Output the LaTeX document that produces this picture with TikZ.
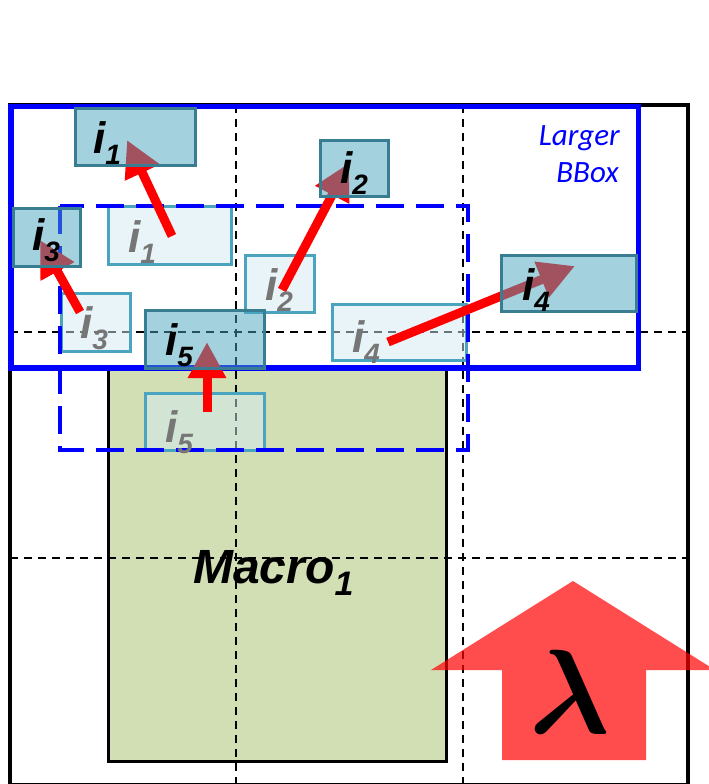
\documentclass[tikz,border=0pt]{standalone}
\usepackage{fontspec}
\usetikzlibrary{arrows.meta}
\DeclareFontShape{OML}{cmm}{b}{it}{<->cmmib10}{}
\newfontfamily\arialfont{Liberation Sans}
\newfontfamily\calibrifont{Carlito}
\definecolor{cellfill}{RGB}{71,163,189}
\definecolor{cellline}{RGB}{56,125,145}
\definecolor{ghostfill}{RGB}{211,233,243}
\definecolor{ghostline}{RGB}{74,164,192}
\definecolor{macrofill}{RGB}{210,223,181}
\definecolor{ghosttext}{RGB}{118,118,118}
\tikzset{
  gridline/.style={dash pattern=on 8pt off 6pt, line width=2.5pt},
  bboxline/.style={draw=blue, line width=5.5pt},
  bboxdash/.style={draw=blue, line width=3.5pt, dash pattern=on 28pt off 12pt},
  cell/.style={fill=cellfill, fill opacity=0.5, draw=cellline, line width=3pt},
  ghost/.style={fill=ghostfill, fill opacity=0.5, draw=ghostline, line width=3pt},
  move/.style={red, line width=9pt, -{Triangle[length=36pt,width=36pt]}},
  lab/.style={inner sep=0pt, font=\arialfont\bfseries\itshape}
}
\newcommand{\cellname}[1]{{\fontsize{44}{44}\selectfont i}\raisebox{-11pt}{\fontsize{28}{28}\selectfont #1}}

\begin{document}
\begin{tikzpicture}[x=1pt, y=-1pt]
	\clip (0,0) rectangle (709,784);
	% macro block and grid
	\filldraw[fill=macrofill, line width=3.5pt] (108.5,368) rectangle (446.5,761.5);
	\draw[gridline] (236,105) -- (236,784);
	\draw[gridline] (463,105) -- (463,784);
	\draw[gridline] (10,332) -- (688,332);
	\draw[gridline] (10,558) -- (688,558);
	\draw[line width=3.5pt] (10,105) rectangle (688,785);
	\draw[bboxline] (11,106.5) rectangle (638.5,368);
	% old cell positions
	\filldraw[ghost] (108,206) rectangle (231,264);
	\filldraw[ghost] (245,255) rectangle (314,312);
	\filldraw[ghost] (61,293) rectangle (130,351);
	\filldraw[ghost] (332,304) rectangle (466,360);
	\filldraw[ghost] (145,393) rectangle (264,450);
	\draw[bboxdash] (60,206) rectangle (468,450);
	% moves
	\coordinate (s1) at (172,236); \coordinate (t1) at (127,140);
	\coordinate (s2) at (282,290); \coordinate (t2) at (349,163);
	\coordinate (s3) at (80,312);  \coordinate (t3) at (40,240);
	\coordinate (s4) at (388,342); \coordinate (t4) at (575,266);
	\coordinate (s5) at (207,412); \coordinate (t5) at (207,342);
	\draw[move] (s1) -- (t1);
	\draw[move] (s2) -- (t2);
	\draw[move] (s3) -- (t3);
	\draw[move] (s4) -- (t4);
	\draw[move] (s5) -- (t5);
	% new cell positions
	\filldraw[cell] (75,108) rectangle (195,165);
	\filldraw[cell] (320,140) rectangle (388,196);
	\filldraw[cell] (13,208) rectangle (80,266);
	\filldraw[cell] (501,255) rectangle (636,311);
	\filldraw[cell] (145,310) rectangle (264,368);
	% labels
	\node[lab, anchor=base west] (new1) at (93,153) {\cellname{1}};
	\node[lab, anchor=base west] (new2) at (340,183) {\cellname{2}};
	\node[lab, anchor=base west] (new3) at (32,250) {\cellname{3}};
	\node[lab, anchor=base west] (new4) at (522,300) {\cellname{4}};
	\node[lab, anchor=base west] (new5) at (165,355) {\cellname{5}};
	\node[lab, anchor=base west, text=ghosttext] (old1) at (128,252) {\cellname{1}};
	\node[lab, anchor=base west, text=ghosttext] (old2) at (265,300) {\cellname{2}};
	\node[lab, anchor=base west, text=ghosttext] (old3) at (80,338) {\cellname{3}};
	\node[lab, anchor=base west, text=ghosttext] (old4) at (352,352) {\cellname{4}};
	\node[lab, anchor=base west, text=ghosttext] (old5) at (165,442) {\cellname{5}};
	\node[lab, anchor=base west] (macro) at (193,583) {{\fontsize{48}{48}\selectfont Macro}\raisebox{-12pt}{\fontsize{34}{34}\selectfont 1}};
	\node[anchor=base east, inner sep=0pt, text=blue, font=\calibrifont\itshape\fontsize{31}{31}\selectfont] (larger) at (620,145) {Larger};
	\node[anchor=base east, inner sep=0pt, text=blue, font=\calibrifont\itshape\fontsize{31}{31}\selectfont] (bbox) at (619,182) {BBox};
	% lambda arrow
	\fill[red, fill opacity=0.7] (573,581) -- (431,670) -- (502,670) -- (502,760) -- (646,760) -- (646,670) -- (715,670) -- cycle;
	\node[anchor=base, inner sep=0pt, font=\fontsize{120}{120}\selectfont\boldmath] (lam) at (570,733) {$\lambda$};
\end{tikzpicture}
\end{document}
